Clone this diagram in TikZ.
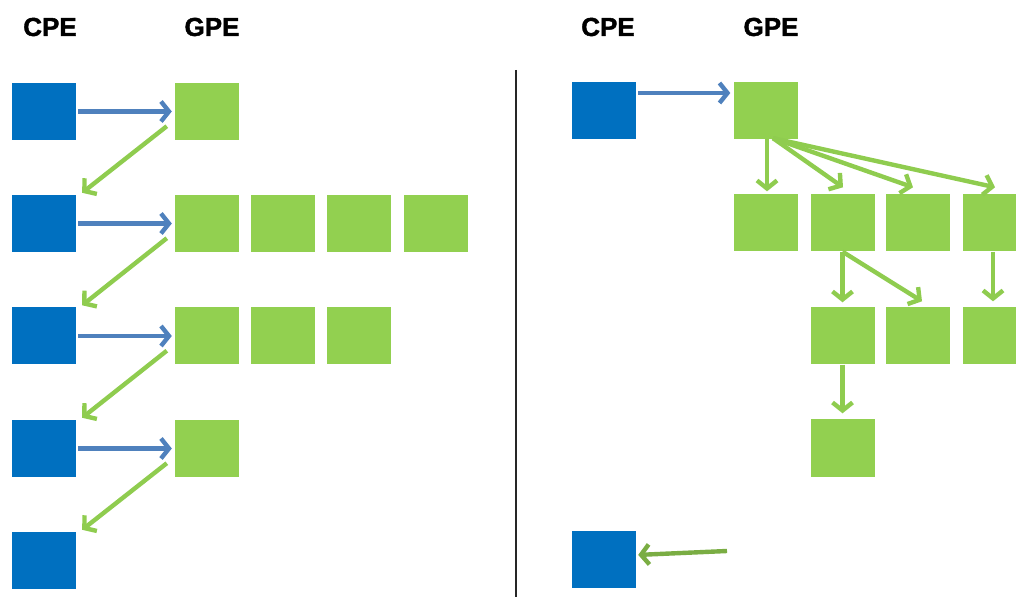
\documentclass[tikz,border=0pt]{standalone}
\usepackage{fontspec}
\setmainfont{Liberation Sans}
\newfontfamily\lblfont[FakeBold=1.6]{Liberation Sans Bold}
\usetikzlibrary{arrows.meta}
\definecolor{cpeblue}{HTML}{0070C0}
\definecolor{gpegreen}{HTML}{92D050}
\definecolor{arrblue}{HTML}{4F81BD}
\definecolor{arrgreen}{HTML}{8FCC4F}
\tikzset{
  sq/.style={minimum width=64pt, minimum height=57pt, inner sep=0pt, draw=none},
  cpebox/.style={sq, fill=cpeblue},
  gpebox/.style={sq, fill=gpegreen},
  lbl/.style={font=\lblfont\fontsize{26}{26}\selectfont, inner sep=0pt},
  conn/.style={line width=4.4pt, -{Straight Barb[length=8pt, width=20pt, line width=4.4pt]}},
  bconn/.style={conn, draw=arrblue},
  gconn/.style={conn, draw=arrgreen},
}
\begin{document}
\begin{tikzpicture}[x=1pt, y=1pt]
\useasboundingbox (0,0) rectangle (1016,597);
\clip (0,0) rectangle (1016,597);
% labels
\node[lbl] (lcpe) at (50,570) {CPE};
\node[lbl] (lgpe) at (212,570) {GPE};
\node[lbl] (rcpe) at (608,570) {CPE};
\node[lbl] (rgpe) at (771,570) {GPE};
% divider
\coordinate (dtop) at (516,527);
\coordinate (dbot) at (516,0);
\draw[line width=1.2pt, black!85] (dtop) -- (dbot);
% left CPE column
\node[cpebox] (c1) at (44,485.5) {};
\node[cpebox] (c2) at (44,373.5) {};
\node[cpebox] (c3) at (44,261) {};
\node[cpebox] (c4) at (44,148.5) {};
\node[cpebox] (c5) at (44,36.5) {};
% left GPE
\node[gpebox] (g1) at (207,485.5) {};
\node[gpebox] (g2a) at (207,373.5) {};
\node[gpebox] (g2b) at (283,373.5) {};
\node[gpebox] (g2c) at (359,373.5) {};
\node[gpebox] (g2d) at (435.5,373.5) {};
\node[gpebox] (g3a) at (207,261) {};
\node[gpebox] (g3b) at (283,261) {};
\node[gpebox] (g3c) at (359,261) {};
\node[gpebox] (g4) at (207,148.5) {};
% left arrows
\foreach \c/\g in {c1/g1, c2/g2a, c3/g3a, c4/g4}{
  \draw[bconn, shorten <=2pt, shorten >=3pt] (\c.east) -- (\g.west);
}
\foreach \g/\c in {g1/c2, g2a/c3, g3a/c4, g4/c5}{
  \draw[gconn] ([shift={(-8,14)}]\g.south west) -- ([shift={(6,2)}]\c.north east);
}
% right side
\node[cpebox] (rc1) at (604,486.5) {};
\node[cpebox] (rc2) at (604,37.5) {};
\node[gpebox] (r1) at (765.5,486.5) {};
\node[gpebox] (r2a) at (765.5,374) {};
\node[gpebox] (r2b) at (842.5,374) {};
\node[gpebox] (r2c) at (917.5,374) {};
\node[gpebox] (r2d) at (994.5,374) {};
\node[gpebox] (r3a) at (842.5,261) {};
\node[gpebox] (r3b) at (917.5,261) {};
\node[gpebox] (r3c) at (994.5,261) {};
\node[gpebox] (r4a) at (842.5,149) {};
\draw[bconn, shorten <=2pt, shorten >=3pt] ([yshift=17.5pt]rc1.east) -- ([yshift=17.5pt]r1.west);
% fan-out from r1
\draw[gconn] ([xshift=1.5pt]r1.south) -- ([xshift=1.5pt,yshift=3pt]r2a.north);
\draw[gconn] ([xshift=7.5pt,yshift=1pt]r1.south) -- ([shift={(0.5,7)}]r2b.north);
\draw[gconn] ([xshift=7.5pt,yshift=1pt]r1.south) -- ([shift={(-4.5,7)}]r2c.north);
\draw[gconn] ([xshift=7.5pt,yshift=1pt]r1.south) -- ([shift={(0.5,7)}]r2d.north);
% from r2b
\draw[gconn] (r2b.south) -- ([yshift=5pt]r3a.north);
\draw[gconn] (r2b.south) -- ([shift={(4.5,6)}]r3b.north);
\draw[gconn] ([xshift=-1.5pt]r2d.south) -- ([xshift=-1.5pt,yshift=6pt]r3c.north);
% from r3a
\draw[gconn] (r3a.south) -- ([yshift=6pt]r4a.north);
% return arrow
\coordinate (ret) at (727,46);
\draw[gconn, draw=arrgreen!85!black, shorten >=2pt] (ret) -- ([yshift=4.5pt]rc2.east);
\end{tikzpicture}
\end{document}
